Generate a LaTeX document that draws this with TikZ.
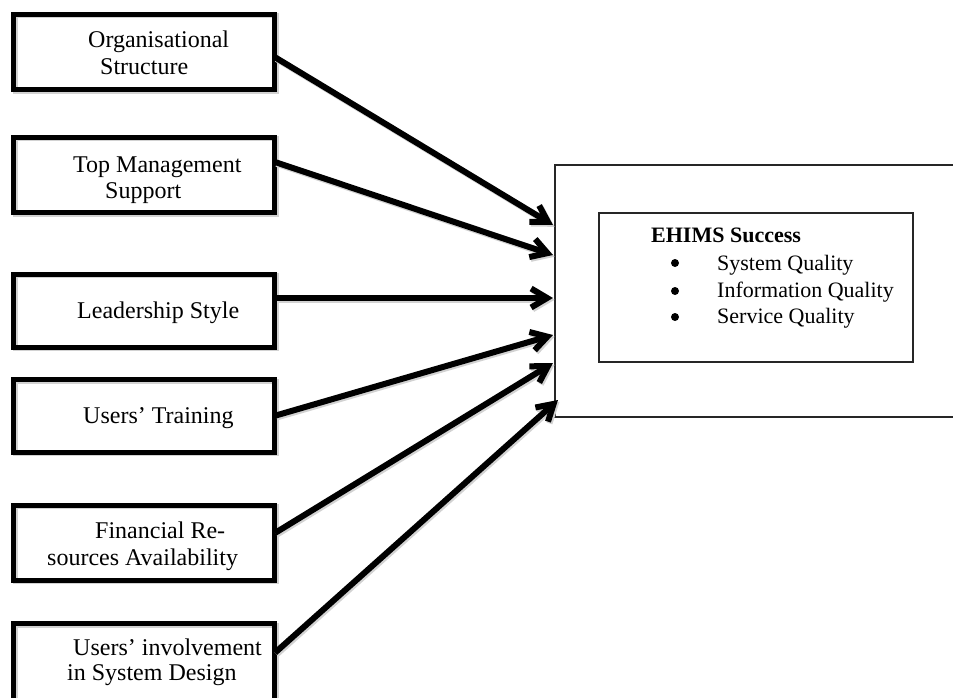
\documentclass[tikz,border=0pt]{standalone}
\usepackage{fontspec}
\setmainfont{Liberation Serif}
\usetikzlibrary{arrows.meta,calc}
\begin{document}
\begin{tikzpicture}[x=1pt,y=-1pt,
  lbox/.style={draw=black,line width=5pt,minimum width=261pt,inner sep=0pt,
    preaction={draw=gray!35,line width=5pt,transform canvas={shift={(1.5pt,-1.5pt)}}}},
  thinbox/.style={draw=black!85,line width=1.5pt},
  lbl/.style={anchor=base west,inner sep=0pt,font=\fontsize{24}{28}\selectfont},
  rlbl/.style={anchor=base west,inner sep=0pt,font=\fontsize{22}{26}\selectfont},
  dot/.style={circle,fill=black,inner sep=0pt,minimum size=8pt},
  arr/.style={line width=6pt,-{Straight Barb[length=16pt,width=19pt]},
    preaction={draw=gray!35,line width=6pt,-{Straight Barb[length=16pt,width=19pt]},
      transform canvas={shift={(1.5pt,-1.8pt)}}}}]
\clip (0,0) rectangle (953,698);
\fill[white] (0,0) rectangle (953,698);

% big right box and inner box
\draw[thinbox] (960,165) -- (555,165) -- (555,417) -- (960,417);
\draw[thinbox] (599,213) rectangle (913,362);

% left boxes
\node[lbox,minimum height=75.5pt] (b1) at (144,52.25) {};
\node[lbox,minimum height=75pt] (b2) at (144,175) {};
\node[lbox,minimum height=73pt] (b3) at (144,310.5) {};
\node[lbox,minimum height=72.5pt] (b4) at (144,415.75) {};
\node[lbox,minimum height=75pt] (b5) at (144,542.5) {};
\node[lbox,minimum height=76.5pt] (b6) at (144,661.75) {};

% texts
\node[lbl] (t1a) at (88,48) {Organisational};
\node[lbl] (t1b) at (100,75) {Structure};
\node[lbl] (t2a) at (73,172) {Top Management};
\node[lbl] (t2b) at (105,198) {Support};
\node[lbl] (t3) at (77,318) {Leadership Style};
\node[lbl] (t4) at (83,423) {Users’ Training};
\node[lbl] (t5a) at (95,538) {Financial Re-};
\node[lbl] (t5b) at (47,565) {sources Availability};
\node[lbl] (t6a) at (73,655) {Users’ involvement};
\node[lbl] (t6b) at (67,680) {in System Design};

\node[rlbl,font=\fontsize{22}{26}\selectfont\bfseries] (eh) at (651,242) {EHIMS Success};
\node[dot] (d1) at (675,263) {};
\node[dot] (d2) at (675,291) {};
\node[dot] (d3) at (675,317) {};
\node[rlbl] (q1) at (717,270) {System Quality};
\node[rlbl] (q2) at (717,297) {Information Quality};
\node[rlbl] (q3) at (717,323) {Service Quality};

% arrow tips
\coordinate (e1) at (553,225);
\coordinate (e2) at (553,255);
\coordinate (e3) at (553,298);
\coordinate (e4) at (553,335);
\coordinate (e5) at (553,363);
\coordinate (e6) at (558,400);

\draw[arr] ($(b1.east)+(-2,5)$) -- (e1);
\draw[arr] ($(b2.east)+(-2,-13)$) -- (e2);
\draw[arr] ($(b3.east)+(-2,-12.5)$) -- (e3);
\draw[arr] ($(b4.east)+(-2,0)$) -- (e4);
\draw[arr] ($(b5.east)+(-2,-9.5)$) -- (e5);
\draw[arr] ($(b6.east)+(-2,-9)$) -- (e6);
\end{tikzpicture}
\end{document}
